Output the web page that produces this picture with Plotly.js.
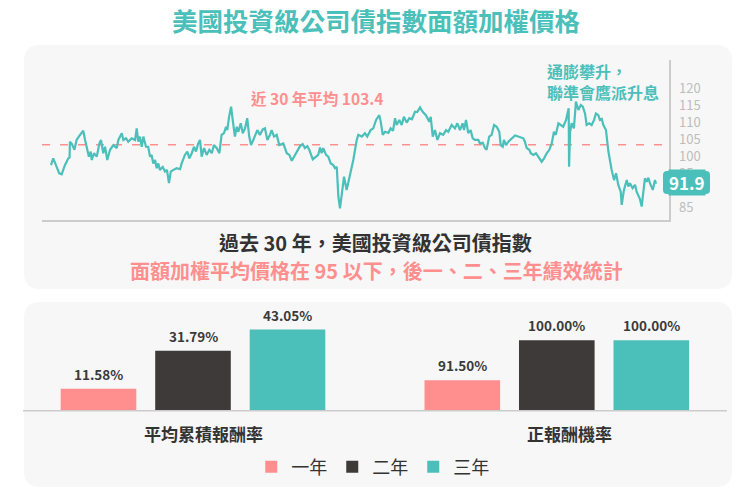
<!DOCTYPE html>
<html><head><meta charset="utf-8">
<script src="https://cdn.plot.ly/plotly-3.0.1.min.js"></script>
<style>html,body{margin:0;padding:0;background:#fff}#chart{width:750px;height:499px}</style>
</head><body><div id="chart"></div>
<script>
// ---- data ----
const years = [
1993.00,1993.11,1993.28,1993.41,1993.53,1993.69,1993.86,1993.92,1993.94,1994.04,
1994.16,1994.27,1994.44,1994.60,1994.69,1994.77,1994.88,1994.97,1995.02,1995.13,
1995.27,1995.40,1995.48,1995.59,1995.68,1995.79,1995.93,1996.09,1996.26,1996.34,
1996.51,1996.59,1996.72,1996.83,1997.00,1997.17,1997.25,1997.33,1997.41,1997.50,
1997.58,1997.71,1997.82,1997.91,1997.99,1998.07,1998.16,1998.24,1998.32,1998.40,
1998.54,1998.65,1998.75,1998.85,1998.94,1999.07,1999.23,1999.40,1999.48,1999.64,
1999.76,1999.86,1999.98,2000.09,2000.19,2000.30,2000.39,2000.47,2000.59,2000.72,
2000.85,2000.97,2001.08,2001.22,2001.35,2001.46,2001.58,2001.68,2001.74,2001.83,
2001.93,2002.01,2002.12,2002.21,2002.29,2002.41,2002.51,2002.62,2002.73,2002.83,
2002.92,2003.03,2003.23,2003.36,2003.50,2003.61,2003.73,2003.86,2003.94,2004.06,
2004.19,2004.32,2004.52,2004.69,2004.82,2004.94,2005.05,2005.18,2005.35,2005.48,
2005.59,2005.71,2005.81,2005.98,2006.14,2006.25,2006.34,2006.42,2006.50,2006.64,
2006.75,2006.87,2007.00,2007.08,2007.17,2007.25,2007.33,2007.41,2007.53,2007.66,
2007.83,2007.91,2007.99,2008.16,2008.24,2008.41,2008.57,2008.68,2008.85,2008.98,
2009.12,2009.28,2009.35,2009.45,2009.56,2009.73,2009.84,2009.96,2010.06,2010.14,
2010.27,2010.39,2010.50,2010.64,2010.77,2010.90,2011.05,2011.16,2011.30,2011.43,
2011.59,2011.76,2011.83,2011.93,2012.04,2012.16,2012.29,2012.45,2012.59,2012.70,
2012.87,2013.03,2013.15,2013.28,2013.41,2013.48,2013.58,2013.69,2013.81,2013.91,
2014.02,2014.19,2014.27,2014.41,2014.52,2014.60,2014.73,2014.85,2014.97,2015.10,
2015.23,2015.30,2015.40,2015.46,2015.56,2015.68,2015.84,2016.01,2016.17,2016.42,
2016.50,2016.59,2016.72,2016.79,2016.92,2017.05,2017.16,2017.33,2017.45,2017.58,
2017.71,2017.83,2017.94,2018.03,2018.16,2018.27,2018.40,2018.54,2018.62,2018.67,
2018.69,2018.74,2018.82,2018.93,2019.03,2019.15,2019.27,2019.37,2019.48,2019.56,
2019.69,2019.81,2019.93,2020.02,2020.14,2020.22,2020.31,2020.39,2020.52,2020.64,
2020.80,2020.92,2021.02,2021.13,2021.25,2021.30,2021.41,2021.55,2021.63,2021.71,
2021.84,2021.96,2022.04,2022.12,2022.20,2022.29,2022.37,2022.45,2022.54,2022.62,
2022.70,2022.84,2022.95,2023.00];
const prices = [
97.4,99.4,96.9,95.0,94.7,97.4,99.4,99.6,104.3,103.6,
101.9,104.8,106.3,107.5,104.8,102.8,99.9,101.4,98.9,100.9,
99.9,103.8,104.8,100.9,102.8,98.9,101.9,103.3,102.4,104.8,
106.8,104.8,105.3,104.3,105.3,104.8,108.2,104.3,105.8,102.8,
105.8,102.8,102.8,99.9,100.4,97.9,98.9,96.5,97.9,96.0,
96.9,95.5,96.0,92.1,95.5,96.0,96.5,96.2,97.9,100.4,
101.4,99.4,100.9,102.8,101.4,103.8,104.8,99.9,102.4,100.4,
101.9,100.9,103.3,102.4,100.9,106.3,106.8,108.7,107.7,111.6,
114.6,110.7,105.8,108.7,107.2,109.7,106.8,108.2,111.2,105.8,
103.3,104.8,107.7,106.3,107.9,108.2,104.8,106.3,107.7,105.8,
106.3,103.3,103.8,100.9,100.4,98.7,99.9,101.4,103.0,103.6,
102.4,103.0,101.9,99.1,99.9,100.4,102.6,100.9,102.4,100.4,
99.9,97.9,97.4,96.5,96.9,88.1,84.7,88.1,94.0,90.1,
94.5,96.9,98.9,104.8,106.3,105.8,106.8,105.8,107.7,108.2,
110.7,112.1,110.2,106.3,107.2,106.9,108.2,107.5,111.2,109.2,
110.7,109.2,111.6,109.9,111.2,110.9,113.1,113.0,114.4,113.1,
112.1,110.2,111.6,105.8,107.7,104.8,106.8,106.3,107.7,107.2,
109.2,108.2,109.7,107.7,109.7,107.7,110.7,106.8,107.7,105.3,
104.8,104.8,103.8,104.0,102.4,101.9,105.8,106.3,109.2,108.7,
107.2,103.3,102.8,104.8,103.3,104.3,105.3,106.1,105.8,105.3,
104.3,102.4,101.9,100.9,100.4,100.9,99.9,98.4,99.4,100.9,
101.9,103.8,107.2,106.3,109.7,109.2,108.7,110.7,112.6,114.1,
96.9,107.2,109.7,108.2,116.1,113.6,115.1,114.6,112.6,109.2,
109.7,109.2,110.7,112.6,112.1,110.7,111.0,109.2,107.7,101.4,
96.0,93.0,95.0,91.6,89.6,85.7,90.1,93.0,91.1,92.1,
90.6,91.6,89.6,88.6,87.5,85.2,88.6,93.5,92.5,93.7,
92.1,90.1,93.0,91.9];
const avgPrice = 103.4;
const priceTicks = [85, 90, 95, 100, 105, 110, 115, 120];
const groups = ['平均累積報酬率', '正報酬機率'];
const horizons = ['一年', '二年', '三年'];
const avgReturn = [11.58, 31.79, 43.05];
const winRate = [91.50, 100.00, 100.00];

// ---- style ----
const TEAL = '#4BBFBA', SALMON = '#FF8F8E', DARK = '#3E3A39';
const barColors = [SALMON, DARK, TEAL];
const FONT = '"Noto Sans CJK TC", "Noto Sans", sans-serif';
const W = 750, H = 499;
const px = v => v / W, py = v => 1 - v / H;
function rr(x0, y0, x1, y1, r) {
  return `M${px(x0+r)},${py(y0)} L${px(x1-r)},${py(y0)} Q${px(x1)},${py(y0)} ${px(x1)},${py(y0+r)} ` +
         `L${px(x1)},${py(y1-r)} Q${px(x1)},${py(y1)} ${px(x1-r)},${py(y1)} L${px(x0+r)},${py(y1)} ` +
         `Q${px(x0)},${py(y1)} ${px(x0)},${py(y1-r)} L${px(x0)},${py(y0+r)} Q${px(x0)},${py(y0)} ${px(x0+r)},${py(y0)} Z`;
}
function note(text, xPx, yPx, size, color, extra) {
  return Object.assign({text, xref: 'paper', yref: 'paper', x: px(xPx), y: py(yPx),
    xanchor: 'center', yanchor: 'middle', showarrow: false,
    font: {size, color, family: FONT}}, extra || {});
}

const traces = [{
  type: 'scatter', mode: 'lines', x: years, y: prices, xaxis: 'x', yaxis: 'y',
  line: {color: TEAL, width: 2.2}, showlegend: false, hoverinfo: 'skip'
}];
horizons.forEach((h, i) => {
  traces.push({type: 'bar', x: [groups[0]], y: [avgReturn[i]], xaxis: 'x2', yaxis: 'y2',
    name: h, legendgroup: h, marker: {color: barColors[i]}, showlegend: true, hoverinfo: 'skip'});
});
horizons.forEach((h, i) => {
  traces.push({type: 'bar', x: [groups[1]], y: [winRate[i]], xaxis: 'x3', yaxis: 'y3',
    name: h, legendgroup: h, marker: {color: barColors[i]}, showlegend: false, hoverinfo: 'skip'});
});

const annotations = [
  note('<b>美國投資級公司債指數面額加權價格</b>', 376, 19, 25.5, TEAL),
  note(`<b>近 30 年平均 ${avgPrice}</b>`, 317, 98, 15.5, SALMON),
  note('<b>通膨攀升，<br>聯準會鷹派升息</b>', 545, 81, 16, TEAL, {xanchor: 'left', align: 'left'}),
  note(`<b>${prices[prices.length-1].toFixed(1)}</b>`, 686.5, 182.5, 17, '#ffffff',
       {bgcolor: TEAL, borderpad: 0}),
  note('<b>過去 30 年，美國投資級公司債指數</b>', 375, 243, 20, '#333333'),
  note('<b>面額加權平均價格在 95 以下，後一、二、三年績效統計</b>', 376, 270, 20, SALMON),
  note(`<b>${groups[0]}</b>`, 203, 433, 17, '#333333'),
  note(`<b>${groups[1]}</b>`, 569, 433, 17, '#333333')
];
[[avgReturn, 'x2', 'y2'], [winRate, 'x3', 'y3']].forEach(([vals, xa, ya]) => {
  vals.forEach((v, i) => {
    annotations.push({text: `<b>${v.toFixed(2)}%</b>`, xref: xa, yref: ya, x: (i - 1) / 3, y: v,
      xanchor: 'center', yanchor: 'bottom', yshift: 3, showarrow: false,
      font: {size: 13.5, color: '#3a3a3a', family: FONT}});
  });
});

const shapes = [
  {type: 'path', path: rr(24, 45, 732, 289, 16), xref: 'paper', yref: 'paper', fillcolor: '#F7F7F7', line: {width: 0}, layer: 'below'},
  {type: 'path', path: rr(24, 302, 732, 487, 16), xref: 'paper', yref: 'paper', fillcolor: '#F7F7F7', line: {width: 0}, layer: 'below'},
  {type: 'line', xref: 'x domain', yref: 'y', x0: 0, x1: 1, y0: avgPrice, y1: avgPrice,
   line: {color: SALMON, width: 1.3, dash: '8px,10px'}, layer: 'below'},
  {type: 'line', xref: 'paper', yref: 'paper', x0: px(23), x1: px(727), y0: py(410.7), y1: py(410.7),
   line: {color: '#cccccc', width: 1.5}},
  {type: 'path', path: rr(663, 171, 710, 194, 4), xref: 'paper', yref: 'paper', fillcolor: TEAL, line: {width: 0}, layer: 'above'}
];

const layout = {
  width: W, height: H, margin: {l: 0, r: 0, t: 0, b: 0},
  paper_bgcolor: '#ffffff', plot_bgcolor: 'rgba(0,0,0,0)',
  font: {family: FONT, color: '#333333'},
  showlegend: true,
  barmode: 'group', bargap: 0, bargroupgap: 0.2,
  xaxis: {domain: [px(42), px(669)], range: [1992.554, 2023.645], anchor: 'y', showline: true,
    linecolor: '#cccccc', linewidth: 1.5, showticklabels: false, showgrid: false, zeroline: false, ticks: ''},
  yaxis: {domain: [py(220), py(60)], range: [81.26, 128.32], anchor: 'x', side: 'right', showline: true,
    linecolor: '#cccccc', linewidth: 1.5, tickmode: 'array', tickvals: priceTicks, ticks: '',
    ticklabelstandoff: 6, tickfont: {size: 13, color: '#bdbdbd'}, showgrid: false, zeroline: false},
  xaxis2: {domain: [px(51.25), px(334.75)], anchor: 'y2', type: 'category', showticklabels: false,
    showgrid: false, zeroline: false, showline: false, range: [-0.5, 0.5]},
  yaxis2: {domain: [py(410.7), py(300)], anchor: 'x2', range: [0, 58.73], visible: false},
  xaxis3: {domain: [px(415.05), px(698.55)], anchor: 'y3', type: 'category', showticklabels: false,
    showgrid: false, zeroline: false, showline: false, range: [-0.5, 0.5]},
  yaxis3: {domain: [py(410.7), py(300)], anchor: 'x3', range: [85, 108.55], visible: false},
  legend: {orientation: 'h', x: 0.497, xanchor: 'center', y: py(467), yanchor: 'middle',
    font: {size: 18, color: '#333333', family: FONT}, bgcolor: 'rgba(0,0,0,0)', traceorder: 'normal'},
  annotations: annotations,
  shapes: shapes
};

Plotly.newPlot('chart', traces, layout, {displayModeBar: false, staticPlot: true});
</script>
</body></html>
